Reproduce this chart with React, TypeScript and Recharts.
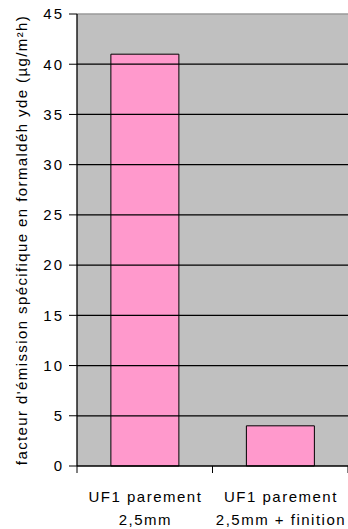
import { BarChart, Bar, XAxis, YAxis, CartesianGrid, ReferenceLine, Label } from "recharts";

const categories = [
  ["UF1 parement", "2,5mm"],
  ["UF1 parement", "2,5mm + finition"],
];
const emissions = [41, 4];
const yTicks = [0, 5, 10, 15, 20, 25, 30, 35, 40, 45];
const yLabel = "facteur d'émission spécifique en formaldéh yde (µg/m²h)";

const data = categories.map((c, i) => ({
  name: c.join(" "),
  lines: c,
  value: emissions[i],
}));

const FONT = "'Liberation Sans', Arial, sans-serif";

// two-line category label plus a tick mark at the right edge of each band
const CategoryTick = (props: any) => {
  const { x, y, payload, index } = props;
  const half = payload?.offset ?? 68;
  const lines: string[] = data[index]?.lines ?? [String(payload.value)];
  return (
    <g>
      <line x1={x + half} y1={y - 8} x2={x + half} y2={y - 1} stroke="#000" />
      {index === 0 && <line x1={x - half} y1={y - 8} x2={x - half} y2={y - 1} stroke="#000" />}
      {lines.map((l, i) => (
        <text
          key={i}
          x={x + 0.7}
          y={y + 28 + i * 23}
          textAnchor="middle"
          fontFamily={FONT}
          fontSize={15}
          letterSpacing={1.5}
          fill="#000"
        >
          {l}
        </text>
      ))}
    </g>
  );
};

export default function App() {
  return (
    <div style={{ position: "absolute", left: 0, top: 0, background: "#fff" }}>
      <BarChart
        width={348}
        height={529}
        data={data}
        margin={{ top: 14, right: 0, left: 0, bottom: 0 }}
        barCategoryGap="25%"
      >
        <CartesianGrid horizontal={false} vertical={false} fill="#c0c0c0" fillOpacity={1} />
        {yTicks
          .filter((t) => t > 0)
          .map((t) => (
            <ReferenceLine
              key={t}
              y={t}
              stroke={t === 45 ? "#9a9a9a" : "#000"}
              strokeWidth={t === 45 ? 1.5 : 1.3}
            />
          ))}
        <XAxis
          dataKey="name"
          height={63}
          axisLine={{ stroke: "#000", strokeWidth: 1.3 }}
          tickLine={false}
          tick={<CategoryTick />}
          interval={0}
        />
        <YAxis
          width={77}
          domain={[0, 45]}
          ticks={yTicks}
          interval={0}
          axisLine={{ stroke: "#000", strokeWidth: 1.3 }}
          tickLine={{ stroke: "#000" }}
          tickSize={8}
          tickMargin={5}
          tick={{ fill: "#000", fontSize: 15, fontFamily: FONT, letterSpacing: 2 }}
        >
          <Label
            content={(p: any) => {
              const vb = p.viewBox || {};
              const cy = (vb.y ?? 14) + (vb.height ?? 452) / 2;
              return (
                <text
                  x={21}
                  y={cy}
                  transform={`rotate(-90, 21, ${cy})`}
                  textAnchor="middle"
                  dominantBaseline="central"
                  fontFamily={FONT}
                  fontSize={15}
                  letterSpacing={1.4}
                  fill="#000"
                >
                  {yLabel}
                </text>
              );
            }}
          />
        </YAxis>
        <Bar dataKey="value" fill="#ff99cc" stroke="#000" strokeWidth={1} isAnimationActive={false} />
      </BarChart>
    </div>
  );
}
